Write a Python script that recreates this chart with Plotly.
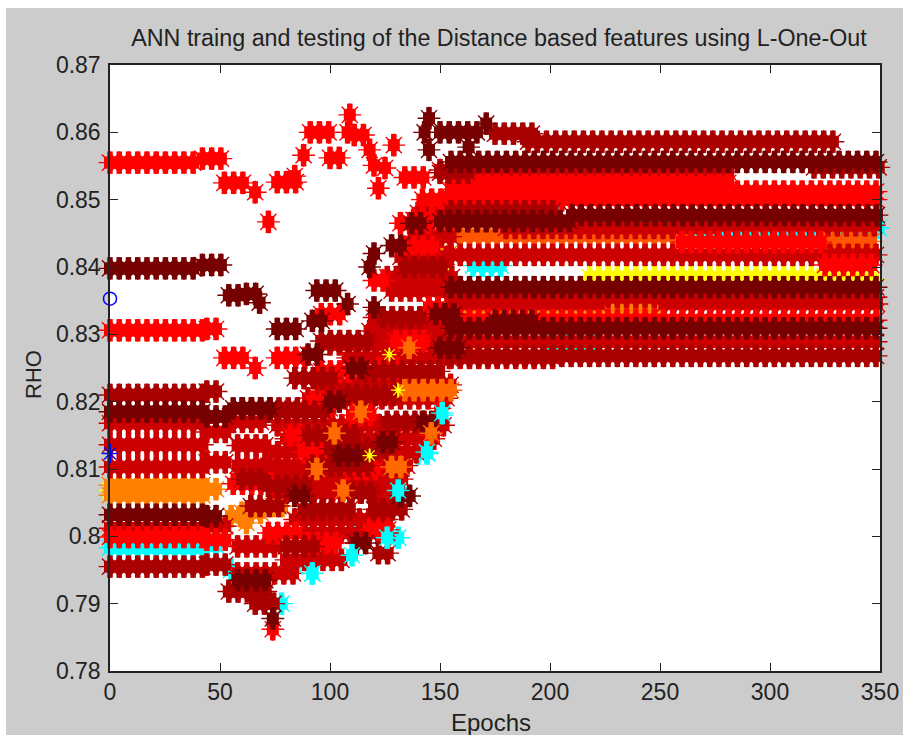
import numpy as np
import plotly.graph_objects as go

EPOCH_STEP = 4.2
X_TICKS = [0, 50, 100, 150, 200, 250, 300, 350]
Y_TICKS = [0.78, 0.79, 0.80, 0.81, 0.82, 0.83, 0.84, 0.85, 0.86, 0.87]
Y_LABELS = ["0.78", "0.79", "0.8", "0.81", "0.82", "0.83", "0.84", "0.85", "0.86", "0.87"]

# Runs: (first epoch, last epoch, RHO)
CYAN_RUNS = [
    (0, 42, 0.7983), (44, 52, 0.7986), (55, 58, 0.7950), (78, 78, 0.7900), (84, 88, 0.7955), (92, 92, 0.7945),
    (101, 105, 0.7970), (112, 118, 0.8010), (131, 131, 0.7998), (133, 133, 0.8065), (140, 147, 0.8123),
    (151, 151, 0.8180), (156, 156, 0.8375), (165, 180, 0.8402), (178, 200, 0.8462), (200, 224, 0.8284),
    (215, 350, 0.8458),
]
YELLOW_RUNS = [
    (0, 42, 0.8068), (218, 322, 0.8385), (322, 350, 0.8381), (152, 154, 0.8390),
]
ORANGE_LIGHT_RUNS = [
    (0, 42, 0.8076), (0, 42, 0.8061), (44, 52, 0.8070), (55, 60, 0.8030), (60, 72, 0.8035), (62, 66, 0.8020),
    (74, 80, 0.8045), (228, 250, 0.8342), (150, 240, 0.8330), (150, 175, 0.8293), (150, 155, 0.8420),
]
ORANGE_DARK_RUNS = [
    (155, 262, 0.8447), (325, 350, 0.8438),
]
DEEP_RED_RUNS = [
    (0, 42, 0.8168), (0, 42, 0.8136), (0, 42, 0.8103), (0, 42, 0.8012), (44, 56, 0.8155), (44, 56, 0.8110),
    (44, 56, 0.8015), (56, 72, 0.8170), (58, 72, 0.8135), (58, 72, 0.8105), (58, 76, 0.7985), (58, 84, 0.7945),
    (80, 106, 0.7965), (84, 126, 0.8005), (84, 130, 0.8025), (76, 132, 0.8065), (74, 136, 0.8085),
    (72, 136, 0.8105), (72, 142, 0.8125), (80, 148, 0.8145), (76, 154, 0.8165), (90, 156, 0.8205),
    (96, 156, 0.8225), (108, 156, 0.8265), (100, 156, 0.8285), (118, 156, 0.8305), (120, 156, 0.8325),
    (128, 156, 0.8365), (126, 156, 0.8385), (132, 156, 0.8415), (138, 156, 0.8445), (145, 158, 0.8470),
    (150, 172, 0.8544),
    (155, 285, 0.8541), (155, 350, 0.8418), (155, 350, 0.8355), (155, 226, 0.8345), (252, 350, 0.8345),
    (155, 350, 0.8289), (180, 275, 0.8458), (276, 350, 0.8462), (155, 205, 0.8265), (140, 156, 0.8480),
]
DARK_RED_RUNS = [
    (0, 42, 0.8210), (44, 52, 0.8215), (0, 42, 0.7955), (44, 56, 0.7958), (54, 72, 0.7918), (66, 76, 0.7900),
    (60, 88, 0.8190), (84, 104, 0.8235), (96, 118, 0.8290), (72, 90, 0.8075), (90, 112, 0.8150), (108, 132, 0.8210),
    (124, 142, 0.8325), (126, 146, 0.8170), (88, 110, 0.8040), (120, 135, 0.8040), (134, 152, 0.8400),
    (175, 192, 0.8598), (190, 330, 0.8586), (320, 350, 0.8548), (155, 205, 0.8483), (155, 350, 0.8268),
    (150, 165, 0.8540), (110, 122, 0.8065), (122, 128, 0.7975), (72, 100, 0.8185), (64, 80, 0.8045),
    (92, 118, 0.8105), (100, 128, 0.8130), (116, 150, 0.8245), (60, 70, 0.8085), (80, 96, 0.7985),
]
RED_RUNS = [
    (0, 40, 0.8555), (42, 52, 0.8561), (52, 64, 0.8525), (66, 70, 0.8511), (76, 88, 0.8526), (72, 72, 0.8467),
    (84, 84, 0.8535), (88, 88, 0.8566), (91, 100, 0.8600), (109, 109, 0.8626), (108, 108, 0.8600),
    (111, 119, 0.8596), (100, 108, 0.8562), (118, 118, 0.8574), (120, 120, 0.8551), (125, 125, 0.8547),
    (129, 133, 0.8581), (122, 122, 0.8517), (134, 146, 0.8533), (0, 42, 0.8306), (44, 52, 0.8308),
    (52, 64, 0.8265), (66, 70, 0.8250), (76, 92, 0.8265), (0, 42, 0.7999), (44, 54, 0.7995),
    (56, 76, 0.8078), (72, 86, 0.8005), (82, 92, 0.8150), (96, 106, 0.8330), (92, 100, 0.8200), (108, 122, 0.8100),
    (110, 122, 0.8180), (118, 128, 0.8010), (122, 134, 0.8250), (120, 128, 0.8380), (145, 152, 0.8340),
    (138, 150, 0.8470), (155, 285, 0.8525), (155, 350, 0.8512), (155, 350, 0.8500), (260, 325, 0.8437),
    (325, 350, 0.8403), (155, 350, 0.8321), (100, 100, 0.8190), (74, 74, 0.7862), (90, 104, 0.7990),
    (132, 146, 0.8465), (134, 150, 0.8430), (146, 146, 0.8150), (150, 150, 0.8190),
    (88, 100, 0.8125), (96, 110, 0.8245), (130, 146, 0.8290), (142, 156, 0.8500),
]
MAROON_RUNS = [
    (0, 40, 0.8398), (42, 52, 0.8403), (54, 62, 0.8358), (62, 68, 0.8360), (68, 72, 0.8347), (76, 88, 0.8308),
    (0, 42, 0.8185), (44, 54, 0.8178), (56, 76, 0.8190), (0, 42, 0.8032), (44, 52, 0.8030), (74, 74, 0.7878),
    (58, 72, 0.7935), (94, 106, 0.8365), (92, 100, 0.8320), (108, 108, 0.8345), (118, 118, 0.8400),
    (120, 120, 0.8340), (120, 124, 0.8420), (128, 134, 0.8432), (137, 143, 0.8465), (145, 145, 0.8621),
    (143, 143, 0.8600), (150, 170, 0.8600), (171, 171, 0.8613), (163, 163, 0.8578), (145, 145, 0.8574),
    (155, 350, 0.8556), (150, 210, 0.8468), (210, 350, 0.8477), (155, 350, 0.8370), (155, 350, 0.8309),
    (100, 108, 0.8200), (84, 92, 0.8060), (104, 116, 0.8120), (124, 132, 0.8140), (112, 120, 0.7990),
    (142, 150, 0.8170), (148, 160, 0.8330), (175, 195, 0.8320), (150, 160, 0.8280), (90, 96, 0.8270),
    (110, 116, 0.8250), (132, 138, 0.8060),
]
ORANGE_TOP_RUNS = [
    (136, 138, 0.8280), (134, 155, 0.8217), (114, 118, 0.8185), (102, 104, 0.8153), (128, 134, 0.8103),
    (94, 98, 0.8100), (146, 150, 0.8153), (106, 108, 0.8068),
]
CYAN_TOP_RUNS = [
    (151, 151, 0.8183), (144, 148, 0.8125), (131, 131, 0.8068), (126, 126, 0.7998), (110, 110, 0.7972),
    (92, 92, 0.7945),
]
YELLOW_TOP_RUNS = [(127, 127, 0.8270), (131, 131, 0.8217), (118, 118, 0.8120)]
BLUE_STAR = [(0, 0, 0.8123)]
BLUE_CIRCLE = [(0, 0, 0.8353)]

SERIES = [
    (CYAN_RUNS, "#00ffff"), (YELLOW_RUNS, "#ffff00"), (ORANGE_LIGHT_RUNS, "#ff8000"), (ORANGE_DARK_RUNS, "#ff5500"),
    (DEEP_RED_RUNS, "#cc0000"), (RED_RUNS, "#ff0000"), (DARK_RED_RUNS, "#aa0000"), (MAROON_RUNS, "#770000"),
    (ORANGE_TOP_RUNS, "#ff6a00"), (CYAN_TOP_RUNS, "#00ffff"),
]


def expand(runs):
    xs, ys = [], []
    for first, last, rho in runs:
        for x in np.arange(first, last + 0.01, EPOCH_STEP) if last > first else [first]:
            xs.append(float(x))
            ys.append(rho)
    return xs, ys


def add_stars(fig, runs, colour, body=12, teeth=16, teeth_width=5.5, spike=19, spike_width=1.4):
    xs, ys = expand(runs)
    layers = [
        dict(symbol="line-ns-open", size=teeth, color=colour, line=dict(color=colour, width=teeth_width)),
        dict(symbol="square", size=body, color=colour, line=dict(width=0)),
        dict(symbol="asterisk-open", size=spike, color=colour, line=dict(color=colour, width=spike_width)),
    ]
    for marker in layers:
        fig.add_trace(go.Scatter(x=xs, y=ys, mode="markers", cliponaxis=False, showlegend=False, marker=marker))


fig = go.Figure()
for runs, colour in SERIES:
    add_stars(fig, runs, colour)
add_stars(fig, YELLOW_TOP_RUNS, "#ffff00", body=5, teeth=9, teeth_width=2, spike=12, spike_width=1.2)
add_stars(fig, BLUE_STAR, "#0000ff", body=3, teeth=14, teeth_width=2, spike=14, spike_width=1.4)
xs, ys = expand(BLUE_CIRCLE)
fig.add_trace(go.Scatter(
    x=xs, y=ys, mode="markers", cliponaxis=False, showlegend=False,
    marker=dict(symbol="circle-open", size=13, color="#0000ff", line=dict(color="#0000ff", width=1.5)),
))

axis = dict(
    showgrid=False, zeroline=False, showline=True, linecolor="#222222", linewidth=1.5, mirror="allticks",
    ticks="inside", ticklen=8, tickwidth=1.2, tickcolor="#222222", ticklabeloverflow="allow",
    tickfont=dict(family="Liberation Sans", size=23, color="#222222"),
)
fig.update_layout(
    width=930, height=727, autosize=False,
    paper_bgcolor="#cccccc", plot_bgcolor="#ffffff",
    margin=dict(l=104, r=56, t=57, b=64),
    title=dict(text="ANN traing and testing of the Distance based features using L-One-Out",
               x=493 / 930, xanchor="center", y=1 - 30 / 727, yanchor="middle",
               font=dict(family="Liberation Sans", size=23.3, color="#222222")),
    xaxis=dict(axis, range=[0, 350], tickvals=X_TICKS),
    yaxis=dict(axis, range=[0.78, 0.87], tickvals=Y_TICKS, ticktext=Y_LABELS, ticklabelstandoff=3),
    annotations=[
        dict(text="RHO", textangle=-90, xref="paper", yref="paper", x=-77 / 770, y=296 / 606,
             xanchor="center", yanchor="middle", showarrow=False,
             font=dict(family="Liberation Sans", size=22, color="#222222")),
        dict(text="Epochs", xref="paper", yref="paper", x=381 / 770, y=-51 / 606,
             xanchor="center", yanchor="middle", showarrow=False,
             font=dict(family="Liberation Sans", size=24, color="#222222")),
    ],
)
fig.write_html(
    "out.html",
    post_script="document.body.style.margin='8px 0 0 6px';document.documentElement.style.overflow='hidden';",
)
